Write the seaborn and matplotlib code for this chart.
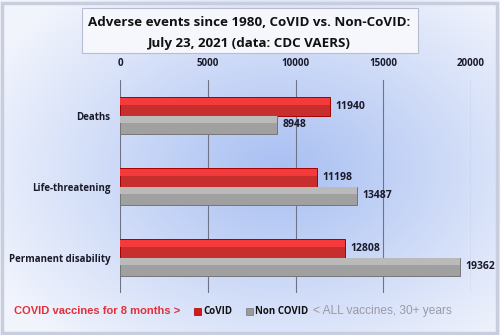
import numpy as np
import pandas as pd
import matplotlib
matplotlib.use("Agg")
import matplotlib.pyplot as plt
import seaborn as sns
from matplotlib.patches import FancyBboxPatch, Rectangle

categories = ["Deaths", "Life-threatening", "Permanent disability"]
covid = [11940, 11198, 12808]
non_covid = [8948, 13487, 19362]
series = ["CoVID", "Non COVID"]
ticks = [0, 5000, 10000, 15000, 20000]

df = pd.DataFrame({
    "category": categories * 2,
    "value": covid + non_covid,
    "series": [series[0]] * 3 + [series[1]] * 3,
})

sns.set_theme(style="white")
plt.rcParams["font.family"] = ["Open Sans", "DejaVu Sans"]

fig = plt.figure(figsize=(5, 3.35), dpi=100)

# background gradient
bg = fig.add_axes([0, 0, 1, 1], zorder=-10)
yy, xx = np.mgrid[0:335, 0:500]
d = np.sqrt(((xx - 280) / 330.0) ** 2 + ((yy - 170) / 230.0) ** 2)
d = np.clip(d, 0, 1)
c0 = np.array([0.66, 0.75, 0.95])
c1 = np.array([0.95, 0.96, 0.99])
img = c0[None, None, :] * (1 - d[..., None]) + c1[None, None, :] * d[..., None]
bg.imshow(img, aspect="auto", extent=[0, 1, 0, 1])
bg.set_xlim(0, 1); bg.set_ylim(0, 1)
bg.axis("off")
bg.add_patch(Rectangle((0.004, 0.006), 0.99, 0.985, fill=False, ec="#c9cede", lw=2.5))

ax = fig.add_axes([0.24, 0.1254, 0.702, 0.6356])
ax.patch.set_alpha(0)
sns.barplot(data=df, y="category", x="value", hue="series", orient="h",
            palette=["#e01616", "#a0a0a0"], width=0.52, gap=0,
            edgecolor="none", ax=ax, legend=False)

for p, col in zip(ax.patches, ["#a80000"] * 3 + ["#767676"] * 3):
    p.set_edgecolor(col)
    p.set_linewidth(0.7)
    x, y = p.get_x(), p.get_y()
    w, h = p.get_width(), p.get_height()
    hi = "#f43a3a" if col == "#a80000" else "#bababa"
    ax.add_patch(Rectangle((x, y + h * 0.03), w, h * 0.4, color=hi, lw=0,
                           zorder=p.get_zorder() + 0.1))
    ax.text(x + w + 330, y + h / 2, f"{int(w)}", va="center", ha="left",
            fontsize=7.5, fontweight="bold", color="#1a1a2a")

ax.set_xlim(0, 20000)
ax.set_ylim(2.5, -0.5)
ax.set_xticks(ticks)
ax.set_xticklabels([str(t) for t in ticks])
ax.xaxis.tick_top()
ax.tick_params(axis="x", length=0, pad=8, labelsize=7, labelcolor="#1a1a2a")
ax.tick_params(axis="y", length=0, pad=7, labelsize=7, labelcolor="#1a1a2a")
for lab in ax.get_yticklabels() + ax.get_xticklabels():
    lab.set_fontweight("bold")
ax.set_xlabel(""); ax.set_ylabel("")
ax.grid(axis="x", color="#6e7387", lw=0.8)
ax.set_axisbelow(True)
for s in ax.spines.values():
    s.set_visible(False)

# title box
fig.patches.append(FancyBboxPatch((82 / 500, 1 - 53 / 335), 336 / 500, 45 / 335,
                                  boxstyle="square,pad=0", transform=fig.transFigure,
                                  fc="#f5f7fc", ec="#b8bdd0", lw=0.8, zorder=1))
fig.text(249 / 500, 1 - 23 / 335, "Adverse events since 1980, CoVID vs. Non-CoVID:",
         ha="center", va="center", fontsize=9.6, fontweight="bold", color="#111")
fig.text(249 / 500, 1 - 44 / 335, "July 23, 2021 (data: CDC VAERS)",
         ha="center", va="center", fontsize=9.6, fontweight="bold", color="#111")

# bottom legend
ty = 1 - 311 / 335
fig.text(14 / 500, ty, "COVID vaccines for 8 months >", ha="left", va="center",
         fontsize=8, fontweight="bold", color="#e0303a", family=["Liberation Sans"])
fig.patches.append(Rectangle((194 / 500, ty - 3.5 / 335), 7 / 500, 7 / 335,
                             transform=fig.transFigure, fc="#d61a1a", ec="#900", lw=0.5))
fig.text(203 / 500, ty, "CoVID", ha="left", va="center", fontsize=7,
         fontweight="bold", color="#111")
fig.patches.append(Rectangle((246 / 500, ty - 3.5 / 335), 7 / 500, 7 / 335,
                             transform=fig.transFigure, fc="#9a9a9a", ec="#777", lw=0.5))
fig.text(255 / 500, ty, "Non COVID", ha="left", va="center", fontsize=7,
         fontweight="bold", color="#111")
fig.text(313 / 500, ty, "< ALL vaccines, 30+ years", ha="left", va="center",
         fontsize=8.6, color="#9a9aa6", family=["Liberation Sans"])

fig.savefig("out.png", dpi=100)
